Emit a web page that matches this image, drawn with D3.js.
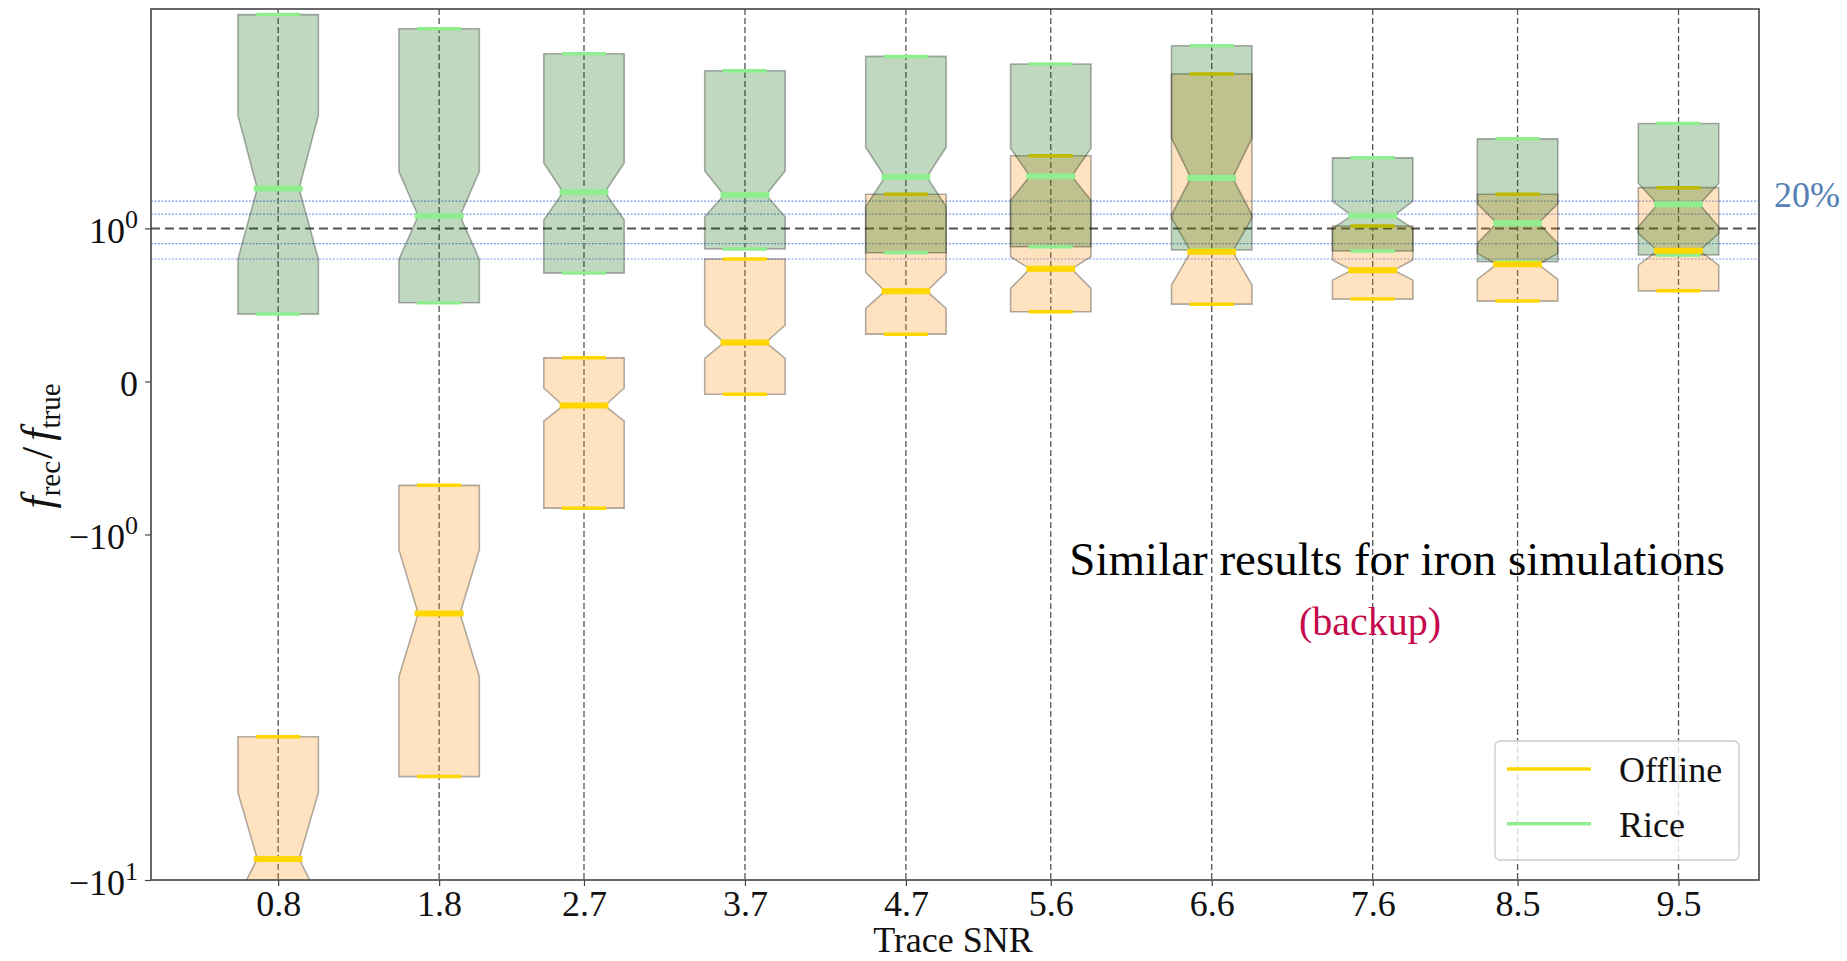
<!DOCTYPE html>
<html>
<head>
<meta charset="utf-8">
<script src="https://cdn.jsdelivr.net/npm/d3@7"></script>
<style>
  html, body { margin: 0; padding: 0; background: #fff; }
  svg { display: block; }
  text { font-family: "Liberation Serif", "DejaVu Serif", serif; }
</style>
</head>
<body>
<div id="chart"></div>
<script>
// ---------------- data ----------------
const snr = [0.8, 1.8, 2.7, 3.7, 4.7, 5.6, 6.6, 7.6, 8.5, 9.5];
const xTickLabels = ["0.8", "1.8", "2.7", "3.7", "4.7", "5.6", "6.6", "7.6", "8.5", "9.5"];

// Offline
const offlineQ1      = [-20,   -5.02, -0.828, -0.084, 0.309, 0.455, 0.505, 0.538, 0.525, 0.592];
const offlineNotchLo = [-11.2, -2.58, -0.260,  0.150, 0.477, 0.608, 0.630, 0.662, 0.667, 0.760];
const offlineMedian  = [-8.69, -1.694,-0.158,  0.255, 0.590, 0.736, 0.848, 0.726, 0.765, 0.854];
const offlineNotchHi = [-5.58, -1.107,-0.043,  0.368, 0.713, 0.815, 1.072, 0.793, 0.837, 0.968];
const offlineQ3      = [-3.85, -0.679, 0.154,  0.800, 1.256, 1.622, 2.80,  1.016, 1.256, 1.312];

// Rice
const riceQ1      = [0.44,  0.514, 0.708, 0.865, 0.841, 0.880, 0.859, 0.852, 0.782, 0.826];
const riceNotchLo = [0.800, 0.798, 1.058, 1.081, 1.156, 1.206, 1.093, 1.000, 0.903, 1.011];
const riceMedian  = [1.304, 1.086, 1.272, 1.250, 1.409, 1.416, 1.400, 1.088, 1.035, 1.175];
const riceNotchHi = [2.122, 1.460, 1.547, 1.467, 1.718, 1.707, 1.825, 1.200, 1.180, 1.351];
const riceQ3      = [4.157, 3.784, 3.203, 2.858, 3.146, 2.990, 3.379, 1.600, 1.816, 2.012];

const yTickValues = [-10, -1, 0, 1];
const refLines = [0.8, 0.9, 1.1, 1.2];
const seriesNames = ["Offline", "Rice"];

// ---------------- layout ----------------
const W = 1847, H = 961;
const L = 151, R = 1759, T0 = 9, B = 880;
const boxW = 0.5;   // in SNR units

const svg = d3.select("#chart").append("svg").attr("width", W).attr("height", H);

const x = d3.scaleLinear().domain([0.01, 10.0]).range([L, R]);

// symlog transform (linthresh = 1)
const LIN = 0.4429;
const tf = v => Math.sign(v) * (Math.abs(v) <= 1 ? Math.abs(v) * LIN : LIN + Math.log10(Math.abs(v)));
const yT = d3.scaleLinear().domain([tf(-10), tf(1)]).range([B, 228.4]);
const y = v => yT(tf(v));

svg.append("defs").append("clipPath").attr("id", "clip")
  .append("rect").attr("x", L).attr("y", T0).attr("width", R - L).attr("height", B - T0);

const plot = svg.append("g").attr("clip-path", "url(#clip)");

// vertical grid
plot.selectAll("line.vgrid").data(snr).enter().append("line")
  .attr("x1", d => x(d)).attr("x2", d => x(d)).attr("y1", T0).attr("y2", B)
  .attr("stroke", "#555").attr("stroke-width", 1.3).attr("stroke-dasharray", "6,3");

// blue dotted reference lines
plot.selectAll("line.ref").data(refLines).enter().append("line")
  .attr("x1", L).attr("x2", R).attr("y1", d => y(d)).attr("y2", d => y(d))
  .attr("stroke", "#7d9af0").attr("stroke-width", 1.2).attr("stroke-dasharray", "2,1.5");

// y = 1 dashed
plot.append("line").attr("x1", L).attr("x2", R).attr("y1", y(1)).attr("y2", y(1))
  .attr("stroke", "#555").attr("stroke-width", 2).attr("stroke-dasharray", "9,5");

function makeData(q1, nlo, med, nhi, q3) {
  return snr.map((s, i) => ({ snr: s, q1: q1[i], nlo: nlo[i], med: med[i], nhi: nhi[i], q3: q3[i] }));
}
const offData = makeData(offlineQ1, offlineNotchLo, offlineMedian, offlineNotchHi, offlineQ3);
const riceData = makeData(riceQ1, riceNotchLo, riceMedian, riceNotchHi, riceQ3);

function boxPath(d) {
  const cx = x(d.snr);
  const hw = (x(d.snr + boxW / 2) - x(d.snr - boxW / 2)) / 2;
  const nw = hw * 0.52;
  const pts = [
    [cx - hw, y(d.q1)], [cx + hw, y(d.q1)], [cx + hw, y(d.nlo)], [cx + nw, y(d.med)],
    [cx + hw, y(d.nhi)], [cx + hw, y(d.q3)], [cx - hw, y(d.q3)], [cx - hw, y(d.nhi)],
    [cx - nw, y(d.med)], [cx - hw, y(d.nlo)]
  ];
  return d3.line()(pts) + "Z";
}
const halfW = d => (x(d.snr + boxW / 2) - x(d.snr - boxW / 2)) / 2;

function drawBoxes(data, fill, lineColor) {
  const g = plot.append("g");
  g.selectAll("path").data(data).enter().append("path")
    .attr("d", boxPath)
    .attr("fill", fill).attr("fill-opacity", 0.25)
    .attr("stroke", "#000").attr("stroke-opacity", 0.3).attr("stroke-width", 1.6)
    .attr("stroke-linejoin", "miter");
  ["q1", "q3"].forEach(k => {
    g.selectAll("line." + k).data(data).enter().append("line")
      .attr("x1", d => x(d.snr) - halfW(d) * 0.55).attr("x2", d => x(d.snr) + halfW(d) * 0.55)
      .attr("y1", d => y(d[k])).attr("y2", d => y(d[k]))
      .attr("stroke", lineColor).attr("stroke-width", 3.5);
  });
}
function drawMedians(data, lineColor) {
  plot.append("g").selectAll("line").data(data).enter().append("line")
    .attr("x1", d => x(d.snr) - halfW(d) * 0.52 - 3.5).attr("x2", d => x(d.snr) + halfW(d) * 0.52 + 3.5)
    .attr("y1", d => y(d.med)).attr("y2", d => y(d.med))
    .attr("stroke", lineColor).attr("stroke-width", 6);
}

drawBoxes(offData, "darkorange", "gold");
drawBoxes(riceData, "darkgreen", "lightgreen");
drawMedians(offData, "gold");
drawMedians(riceData, "lightgreen");

// ---------------- axes ----------------
const xAxis = svg.append("g").attr("transform", `translate(0,${B})`)
  .call(d3.axisBottom(x).tickValues(snr).tickFormat((d, i) => xTickLabels[i]).tickSize(6).tickPadding(4));
xAxis.select(".domain").remove();
xAxis.selectAll(".tick line").attr("stroke", "#444").attr("stroke-width", 1.2);
xAxis.selectAll(".tick text").attr("font-size", 36).attr("fill", "#111")
  .attr("font-family", "Liberation Serif").attr("dy", "0.71em");

const yAxis = svg.append("g").attr("transform", `translate(${L},0)`)
  .call(d3.axisLeft(yT).tickValues(yTickValues.map(tf)).tickFormat("").tickSize(6));
yAxis.select(".domain").remove();
yAxis.selectAll(".tick line").attr("stroke", "#444").attr("stroke-width", 1.2);

// y tick labels (math style)
yTickValues.forEach(v => {
  const t = svg.append("text").attr("x", 138).attr("y", y(v) + 14.5)
    .attr("text-anchor", "end").attr("font-size", 36).attr("fill", "#111");
  if (v === 0) { t.text("0"); return; }
  const exp = Math.round(Math.log10(Math.abs(v)));
  t.append("tspan").text((v < 0 ? "\u2212" : "") + "10");
  t.append("tspan").attr("font-size", 26).attr("dy", -15).text(String(exp));
});

// frame
svg.append("rect").attr("x", L).attr("y", T0).attr("width", R - L).attr("height", B - T0)
  .attr("fill", "none").attr("stroke", "#444").attr("stroke-width", 1.6);

// axis labels
svg.append("text").attr("x", 953).attr("y", 952).attr("text-anchor", "middle")
  .attr("font-size", 36).attr("fill", "#111").text("Trace SNR");

const yl = svg.append("text").attr("transform", "translate(52,446) rotate(-90)")
  .attr("text-anchor", "middle").attr("font-size", 44).attr("fill", "#111");
yl.append("tspan").attr("font-style", "italic").text("f");
yl.append("tspan").attr("font-size", 29).attr("dy", 8).text("rec");
yl.append("tspan").attr("dy", -8).attr("dx", 2).text("/");
yl.append("tspan").attr("font-style", "italic").attr("dx", 6).text("f");
yl.append("tspan").attr("font-size", 29).attr("dy", 8).text("true");

// 20% label
svg.append("text").attr("x", 1774).attr("y", 207).attr("font-size", 36)
  .attr("fill", "#5580b6").text("20%");

// annotations
svg.append("text").attr("x", 1397).attr("y", 575).attr("text-anchor", "middle")
  .attr("font-size", 47).attr("fill", "#000").text("Similar results for iron simulations");
svg.append("text").attr("x", 1370).attr("y", 635).attr("text-anchor", "middle")
  .attr("font-size", 40).attr("fill", "#c40a4b").text("(backup)");

// legend
const lg = svg.append("g");
lg.append("rect").attr("x", 1495).attr("y", 741).attr("width", 244).attr("height", 119).attr("rx", 5)
  .attr("fill", "#fff").attr("fill-opacity", 0.8).attr("stroke", "#ccc").attr("stroke-width", 1.3);
const legColors = ["gold", "lightgreen"];
seriesNames.forEach((n, i) => {
  const yy = 769 + i * 54.7;
  lg.append("line").attr("x1", 1507).attr("x2", 1591).attr("y1", yy).attr("y2", yy)
    .attr("stroke", legColors[i]).attr("stroke-width", 3.5);
  lg.append("text").attr("x", 1619).attr("y", yy + 13).attr("font-size", 36).attr("fill", "#111").text(n);
});
</script>
</body>
</html>
